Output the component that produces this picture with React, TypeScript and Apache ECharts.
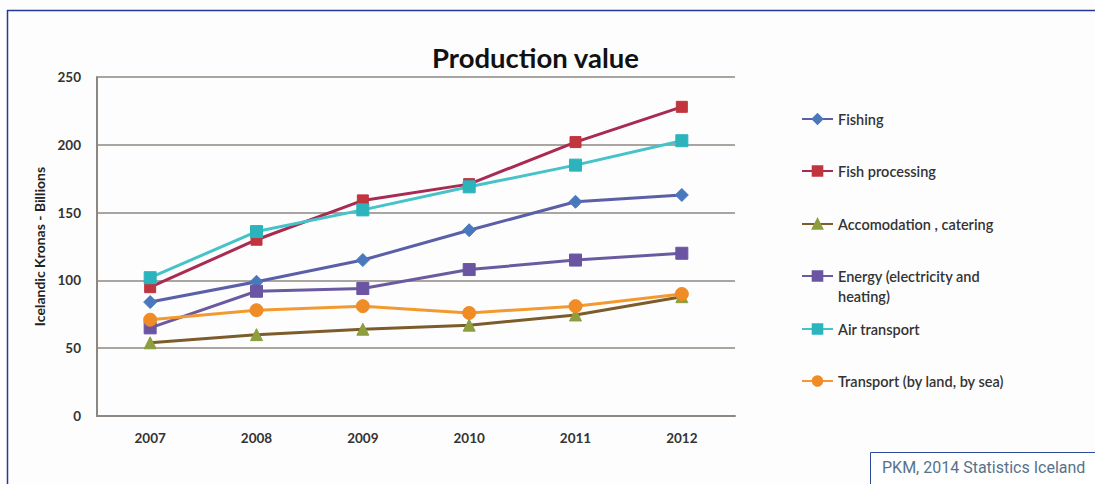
import React, { useEffect, useRef } from "react";
import * as echarts from "echarts";

const years = ["2007", "2008", "2009", "2010", "2011", "2012"];
const fishing = [84, 99, 115, 137, 158, 163];
const fishProcessing = [95, 130, 159, 171, 202, 228];
const accomodation = [54, 60, 64, 67, 74.5, 88];
const energy = [65, 92, 94, 108, 115, 120];
const airTransport = [102, 136, 152, 169, 185, 203];
const transport = [71, 78, 81, 76, 81, 90];

const seriesNames = [
  "Fishing",
  "Fish processing",
  "Accomodation , catering",
  "Energy (electricity and heating)",
  "Air transport",
  "Transport (by land, by sea)",
];

const FONT = "Lato, 'Noto Sans', sans-serif";

export default function App() {
  const ref = useRef<HTMLDivElement>(null);
  useEffect(() => {
    if (!ref.current) return;
    const chart = echarts.init(ref.current, undefined, { renderer: "svg" });
    const mk = (
      name: string,
      data: number[],
      lineColor: string,
      markColor: string,
      symbol: string,
      size: number
    ) => ({
      name,
      type: "line",
      data,
      symbol,
      symbolSize: size,
      lineStyle: { color: lineColor, width: 3 },
      itemStyle: { color: markColor, borderColor: markColor, borderWidth: 1 },
      emphasis: { disabled: true },
    });
    const centers = [119, 171, 224, 276, 329, 381];
    const isEnergy = (n: string) => n === "Energy (electricity and heating)";
    const legends = seriesNames.map((n, i) => ({
      data: [n],
      left: 801,
      top: isEnergy(n) ? centers[i] - 30 : centers[i] - 9,
      padding: 0,
      orient: "vertical",
      itemWidth: 31,
      itemHeight: 12,
      itemGap: 0,
      formatter: (name: string) =>
        isEnergy(name)
          ? "{s| }\n{a|Energy (electricity and}\n{a|heating)}"
          : name,
      textStyle: {
        fontFamily: FONT,
        fontSize: 14.5,
        fontWeight: 600,
        color: "#333",
        lineHeight: 18,
        rich: isEnergy(n)
          ? {
              s: { fontSize: 14.5, lineHeight: 20 },
              a: {
                fontFamily: FONT,
                fontSize: 14.5,
                fontWeight: 600,
                color: "#333",
                lineHeight: 20,
              },
            }
          : undefined,
      },
      selectedMode: false,
    }));
    chart.setOption({
      animation: false,
      backgroundColor: "#fdfdfd",
      title: {
        text: "Production value",
        left: 427,
        top: 38,
        textStyle: {
          fontFamily: FONT,
          fontSize: 27.5,
          fontWeight: "bold",
          color: "#111",
        },
      },
      legend: legends,
      grid: { left: 97, right: 360, top: 77, bottom: 68 },
      xAxis: {
        type: "category",
        data: years,
        boundaryGap: true,
        axisLine: { lineStyle: { color: "#8c8782", width: 2 } },
        axisTick: { show: false },
        axisLabel: {
          margin: 15,
          fontFamily: FONT,
          fontSize: 13.5,
          fontWeight: "bold",
          color: "#333",
        },
      },
      yAxis: {
        type: "value",
        min: 0,
        max: 250,
        interval: 50,
        name: "Icelandic Kronas - Billions",
        nameLocation: "middle",
        nameRotate: 90,
        nameGap: 50,
        nameTextStyle: {
          fontFamily: FONT,
          fontSize: 14,
          fontWeight: "bold",
          color: "#222",
        },
        axisLine: { show: true, lineStyle: { color: "#8c8782", width: 2 } },
        axisTick: { show: false },
        splitLine: { lineStyle: { color: "#8c8782", width: 1.5 } },
        axisLabel: {
          margin: 16,
          fontFamily: FONT,
          fontSize: 13.5,
          fontWeight: "bold",
          color: "#333",
        },
      },
      graphic: [
        {
          type: "line",
          shape: { x1: 7, y1: 10.5, x2: 1100, y2: 10.5 },
          style: { stroke: "#24389a", lineWidth: 1.5 },
        },
        {
          type: "line",
          shape: { x1: 7.5, y1: 10, x2: 7.5, y2: 490 },
          style: { stroke: "#24389a", lineWidth: 1.5 },
        },
        {
          type: "rect",
          shape: { x: 870.5, y: 452.5, width: 240, height: 40 },
          style: { fill: "#ffffff", stroke: "#2e4a9a", lineWidth: 1 },
        },
        {
          type: "text",
          x: 882,
          y: 459,
          style: {
            text: "PKM, 2014 Statistics Iceland",
            fontFamily: "Roboto, 'Liberation Sans', sans-serif",
            fontSize: 16,
            fill: "#56728a",
          },
        },
      ],
      series: [
        mk(seriesNames[0], fishing, "#5a5fa8", "#4a78bd", "diamond", 13),
        mk(seriesNames[1], fishProcessing, "#a92a52", "#c1353f", "rect", 11),
        mk(seriesNames[2], accomodation, "#7c5c2a", "#8d9e3e", "triangle", 12),
        mk(seriesNames[3], energy, "#6a5aa0", "#6b55a2", "rect", 12),
        mk(seriesNames[4], airTransport, "#45c3c8", "#2cb4bd", "rect", 12),
        mk(seriesNames[5], transport, "#f29a30", "#f08c26", "circle", 13),
      ],
    });
    return () => chart.dispose();
  }, []);
  return (
    <div
      ref={ref}
      style={{ position: "fixed", left: 0, top: 0, width: 1095, height: 484 }}
    />
  );
}
